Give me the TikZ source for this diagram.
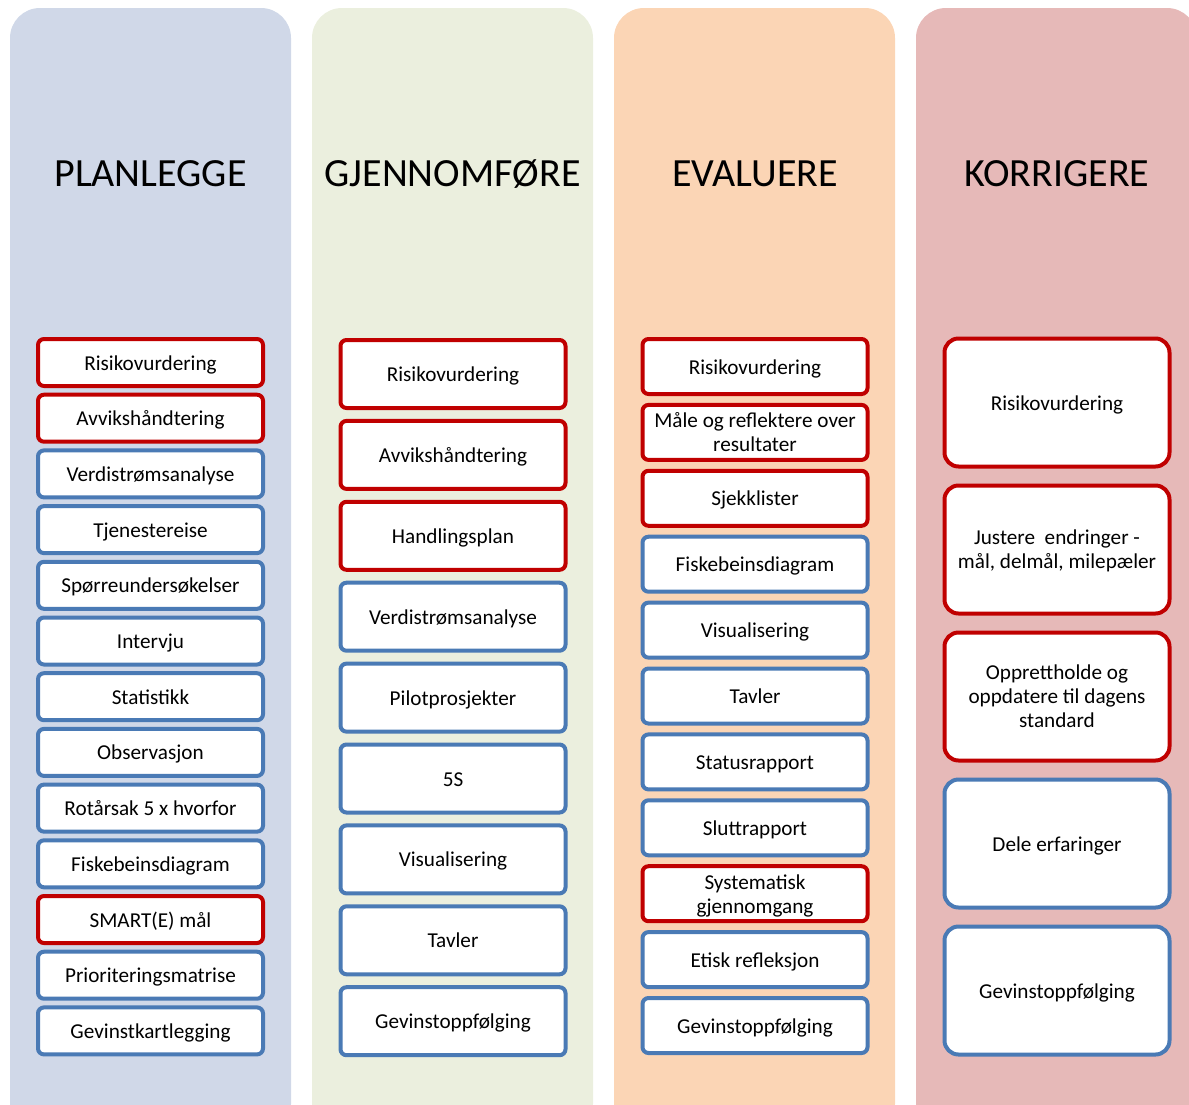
\documentclass[tikz,border=0pt]{standalone}
\usepackage{fontspec}
\setmainfont{Carlito}
\definecolor{panelA}{HTML}{D0D8E8}
\definecolor{panelB}{HTML}{EBEFDE}
\definecolor{panelC}{HTML}{FBD5B5}
\definecolor{panelD}{HTML}{E6B9B8}
\definecolor{boxred}{HTML}{C00000}
\definecolor{boxblue}{HTML}{4A7AB5}
\tikzset{
  panel/.style={rounded corners=30pt},
  coltitle/.style={font=\fontsize{40}{48}\selectfont, inner sep=0pt, anchor=base},
  item/.style={draw, line width=4pt, fill=white, rounded corners=6pt,
    minimum width=225pt, align=center, inner sep=0pt,
    font=\fontsize{21.2}{24}\selectfont},
  % single-line labels: fixed text box so every baseline sits alike
  r/.style={item, draw=boxred, text height=19pt, text depth=4pt},
  b/.style={item, draw=boxblue, text height=19pt, text depth=4pt},
  % multi-line labels: last line set without depth
  rm/.style={item, draw=boxred, text depth=0pt},
  bigitem/.style={rounded corners=14pt, minimum height=128pt}
}
\begin{document}
\begin{tikzpicture}[x=1pt,y=-1pt]
\useasboundingbox (0,0) rectangle (1189,1104);
\begin{scope}
  \clip (0,0) rectangle (1189,1104);
  % column backgrounds
  \fill[panelA, panel] (10,8) rectangle (291,1134);
  \fill[panelB, panel] (312,8) rectangle (593,1134);
  \fill[panelC, panel] (614,8) rectangle (895,1134);
  \fill[panelD, panel] (916,8) rectangle (1197,1134);
\end{scope}
% column titles
\node[coltitle] (t1) at (150.5,186) {PLANLEGGE};
\node[coltitle] (t2) at (452.5,186) {GJENNOMFØRE};
\node[coltitle] (t3) at (755,186) {EVALUERE};
\node[coltitle] (t4) at (1057,186) {KORRIGERE};
% PLANLEGGE
\foreach \txt/\st [count=\i from 0] in {
  Risikovurdering/r, Avvikshåndtering/r, Verdistrømsanalyse/b, Tjenestereise/b,
  Spørreundersøkelser/b, Intervju/b, Statistikk/b, Observasjon/b,
  Rotårsak 5 x hvorfor/b, Fiskebeinsdiagram/b, SMART(E) mål/r,
  Prioriteringsmatrise/b, Gevinstkartlegging/b}
  \node[\st, minimum height=47pt] (p\i) at (150.5,{362.5+55.7*\i}) {\txt};
% GJENNOMFØRE
\foreach \txt/\st [count=\i from 0] in {
  Risikovurdering/r, Avvikshåndtering/r, Handlingsplan/r, Verdistrømsanalyse/b,
  Pilotprosjekter/b, 5S/b, Visualisering/b, Tavler/b, Gevinstoppfølging/b}
  \node[\st, minimum height=68pt] (g\i) at (453,{374+80.9*\i}) {\txt};
% EVALUERE
\foreach \txt/\st [count=\i from 0] in {
  Risikovurdering/r, {Måle og reflektere over\\resultater}/rm, Sjekklister/r,
  Fiskebeinsdiagram/b, Visualisering/b, Tavler/b, Statusrapport/b,
  Sluttrapport/b, {Systematisk\\gjennomgang}/rm, Etisk refleksjon/b,
  Gevinstoppfølging/b}
  \node[\st, minimum height=55pt] (e\i) at (755,{366.5+65.9*\i}) {\txt};
% KORRIGERE
\foreach \txt/\st [count=\i from 0] in {
  Risikovurdering/r, {Justere\ \ endringer -\\mål, delmål, milepæler}/rm,
  {Opprettholde og\\oppdatere til dagens\\standard}/rm,
  Dele erfaringer/b, Gevinstoppfølging/b}
  \node[\st, bigitem] (k\i) at (1057,{402.5+147*\i}) {\txt};
\end{tikzpicture}
\end{document}
